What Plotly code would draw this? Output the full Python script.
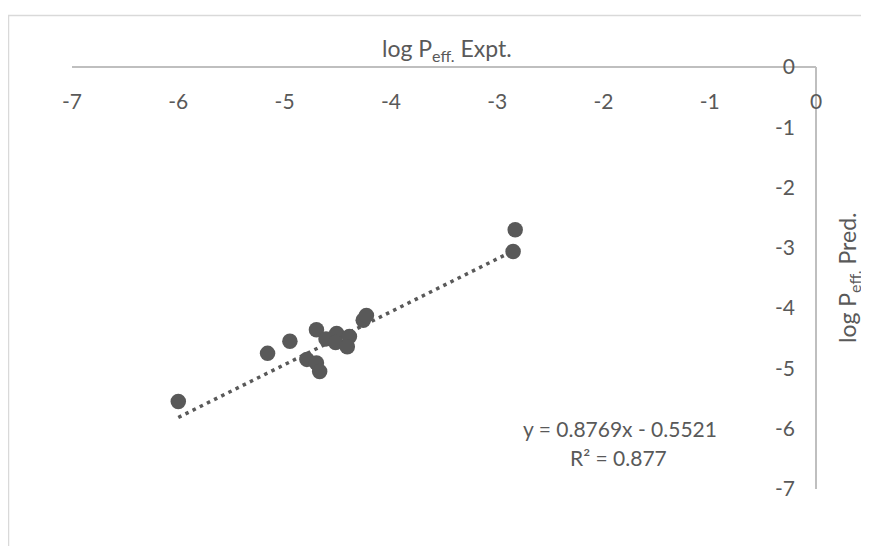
import plotly.graph_objects as go

# ---- data ----
expt = [-6.00, -5.16, -4.95, -4.70, -4.79, -4.70, -4.67, -4.61, -4.51, -4.52,
        -4.39, -4.41, -4.26, -4.23, -2.83, -2.85]
pred = [-5.55, -4.75, -4.55, -4.36, -4.85, -4.91, -5.05, -4.51, -4.42, -4.57,
        -4.47, -4.64, -4.20, -4.12, -2.70, -3.06]
slope = 0.8769
intercept = -0.5521
r2 = 0.877
tick_vals = [-7, -6, -5, -4, -3, -2, -1, 0]
tick_text = ["-7", "-6", "-5", "-4", "-3", "-2", "-1", "0"]

# the page body adds an 8px margin, so the figure is drawn 8px in and down
OFF = 8
W, H = 869 - OFF, 546 - OFF
L, R, T, B = 72 - OFF, 816 - OFF, 67 - OFF, 489 - OFF  # plot area in figure pixels


def px(x):
    return (x - OFF - L) / (R - L)


def py(y):
    return (B - (y - OFF)) / (B - T)


GREY = "#595959"
FONT = "Lato"

xmin, xmax = min(expt), max(expt)
trend_x = [xmin, xmax]
trend_y = [slope * v + intercept for v in trend_x]

fig = go.Figure()
fig.add_trace(go.Scatter(x=trend_x, y=trend_y, mode="lines",
                         line=dict(color=GREY, width=3.5, dash="3.5px,4.5px"),
                         hoverinfo="skip", showlegend=False))
fig.add_trace(go.Scatter(x=expt, y=pred, mode="markers",
                         marker=dict(color=GREY, size=15.5, line=dict(width=0)),
                         showlegend=False))

axis_common = dict(range=[-7, 0], tickvals=tick_vals, ticktext=tick_text,
                   showgrid=False, zeroline=False,
                   showline=True, linecolor="#bfbfbf", linewidth=1.5,
                   ticks="outside", ticklen=16, tickcolor="rgba(0,0,0,0)",
                   tickfont=dict(family=FONT, size=21, color=GREY),
                   fixedrange=True)

fig.update_layout(
    width=W, height=H,
    margin=dict(l=L, r=W - R, t=T, b=H - B),
    paper_bgcolor="white", plot_bgcolor="white",
    xaxis=dict(**axis_common, anchor="free", position=1, side="bottom"),
    yaxis=dict(**axis_common, anchor="free", position=1, side="left"),
    showlegend=False,
)

fig.add_shape(type="rect", xref="paper", yref="paper",
              x0=px(8.5), x1=px(900), y0=py(600), y1=py(15.5),
              line=dict(color="#d9d9d9", width=1.5), fillcolor="rgba(0,0,0,0)",
              layer="below")

ann_font = dict(family=FONT, size=21, color=GREY)
title_font = dict(family=FONT, size=23, color=GREY)
fig.add_annotation(xref="paper", yref="paper", x=px(447), y=py(50),
                   xanchor="center", yanchor="middle",
                   text="log P<sub>eff.</sub> Expt.", showarrow=False, font=title_font)
fig.add_annotation(xref="paper", yref="paper", x=px(848), y=py(278),
                   xanchor="center", yanchor="middle",
                   text="log P<sub>eff.</sub> Pred.", showarrow=False, textangle=-90,
                   font=title_font)
fig.add_annotation(xref="paper", yref="paper", x=px(620), y=py(428),
                   xanchor="center", yanchor="middle",
                   text=f"y = {slope}x - {abs(intercept)}", showarrow=False, font=ann_font)
fig.add_annotation(xref="paper", yref="paper", x=px(618), y=py(457),
                   xanchor="center", yanchor="middle",
                   text=f"R² = {r2}", showarrow=False, font=ann_font)

fig.write_html("out.html")
